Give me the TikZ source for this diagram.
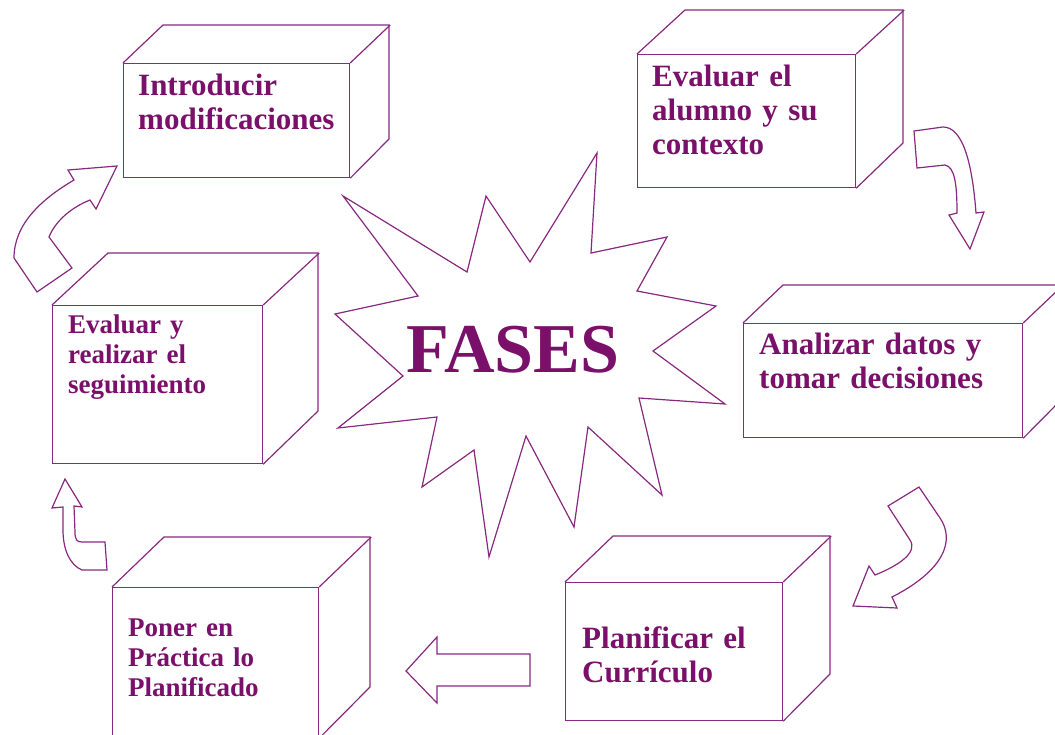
\documentclass[tikz,border=0pt]{standalone}
\usepackage{fontspec}
\setmainfont{Liberation Serif}
\definecolor{morado}{RGB}{122,16,106}
\definecolor{moradolinea}{RGB}{136,40,126}
\tikzset{
  cara/.style={draw=moradolinea, line width=1.2pt, rectangle, inner sep=0pt, anchor=north west},
  arista/.style={draw=moradolinea, line width=1.2pt},
  rotulo/.style={text=morado, font=\bfseries\fontsize{31}{34}\selectfont, text width=260pt, align=left, inner sep=0pt, anchor=base west},
  rotulochico/.style={rotulo, font=\bfseries\fontsize{27}{30}\selectfont},
  flecha/.style={draw=moradolinea, line width=1.2pt, fill=white}
}
\begin{document}
\begin{tikzpicture}[x=1pt,y=-1pt]
\useasboundingbox (0,0) rectangle (1055,734);

% cajas: cara frontal y fondo
\node[cara, minimum width=226pt, minimum height=114pt] (introducir) at (123,63) {};
\draw[arista] (introducir.north west) -- ++(40,-38) -- ++(226,0) -- ++(0,114) -- (introducir.south east);
\draw[arista] (introducir.north east) -- ++(40,-38);

\node[cara, minimum width=218pt, minimum height=133pt] (alumno) at (637,54) {};
\draw[arista] (alumno.north west) -- ++(48,-44) -- ++(218,0) -- ++(0,133) -- (alumno.south east);
\draw[arista] (alumno.north east) -- ++(48,-44);

\node[cara, minimum width=279pt, minimum height=114pt] (analizar) at (743,323) {};
\draw[arista] (analizar.north west) -- ++(40,-38) -- ++(279,0) -- ++(0,114) -- (analizar.south east);
\draw[arista] (analizar.north east) -- ++(40,-38);

\node[cara, minimum width=217pt, minimum height=138pt] (planificar) at (565,582) {};
\draw[arista] (planificar.north west) -- ++(48,-46) -- ++(217,0) -- ++(0,138) -- (planificar.south east);
\draw[arista] (planificar.north east) -- ++(48,-46);

\node[cara, minimum width=206pt, minimum height=150pt] (poner) at (112,587) {};
\draw[arista] (poner.north west) -- ++(52,-50) -- ++(206,0) -- ++(0,150) -- (poner.south east);
\draw[arista] (poner.north east) -- ++(52,-50);

\node[cara, minimum width=210pt, minimum height=158pt] (seguimiento) at (52,305) {};
\draw[arista] (seguimiento.north west) -- ++(56,-52) -- ++(210,0) -- ++(0,158) -- (seguimiento.south east);
\draw[arista] (seguimiento.north east) -- ++(56,-52);

% textos
\node[rotulo] (t-introducir) at (138,95) {Introducir\\modificaciones};
\node[rotulo] (t-alumno) at (652,86) {Evaluar el\\alumno y su\\contexto};
\node[rotulo] (t-analizar) at (759,354) {Analizar datos y\\tomar decisiones};
\node[rotulo] (t-planificar) at (582,648) {Planificar el\\Currículo};
\node[rotulochico] (t-poner) at (128,636) {Poner en\\Práctica lo\\Planificado};
\node[rotulochico] (t-seguimiento) at (68,333) {Evaluar y\\realizar el\\seguimiento};

% estrella central
\draw[arista] (343,196) -- (467,272) -- (486,196) -- (530,262) -- (597,153) -- (591,253)
  -- (667,237) -- (637,291) -- (716,306) -- (653,351) -- (725,404) -- (639,398)
  -- (662,495) -- (588,427) -- (574,527) -- (526,436) -- (489,557) -- (474,450)
  -- (422,487) -- (437,417) -- (338,428) -- (403,376) -- (335,314) -- (418,296) -- cycle;
\node[text=morado, font=\bfseries\fontsize{70}{70}\selectfont, inner sep=0pt, anchor=base] (fases) at (513,372) {FASES};

% flechas
\draw[flecha] (74,180) .. controls (40,200) and (14,225) .. (14,258) -- (37,292) -- (72,268)
  -- (49,237) .. controls (55,222) and (70,208) .. (90,200) -- (96,209) -- (117,166) -- (68,170) -- cycle;
\draw[flecha] (914,131) -- (917,168) -- (945,165) .. controls (955,167) and (957,185) .. (957,213)
  -- (949,215) -- (970,249) -- (984,212) -- (976,213) .. controls (972,160) and (962,127) .. (943,127) -- cycle;
\draw[flecha] (888,506) -- (919,487) -- (940,518) .. controls (955,540) and (945,570) .. (892,597)
  -- (897,608) -- (853,606) -- (869,566) -- (875,575) .. controls (900,565) and (918,552) .. (910,540) -- cycle;
\draw[flecha] (530,654) -- (530,686) -- (437,686) -- (437,703) -- (406,671) -- (437,637) -- (437,654) -- cycle;
\draw[flecha] (65,479) -- (82,507) -- (74,506) -- (75,532) .. controls (75,540) and (77,542) .. (82,542)
  -- (105,542) -- (107,570) -- (82,570) .. controls (70,565) and (63,550) .. (63,530) -- (63,507) -- (52,508) -- cycle;
\end{tikzpicture}
\end{document}
